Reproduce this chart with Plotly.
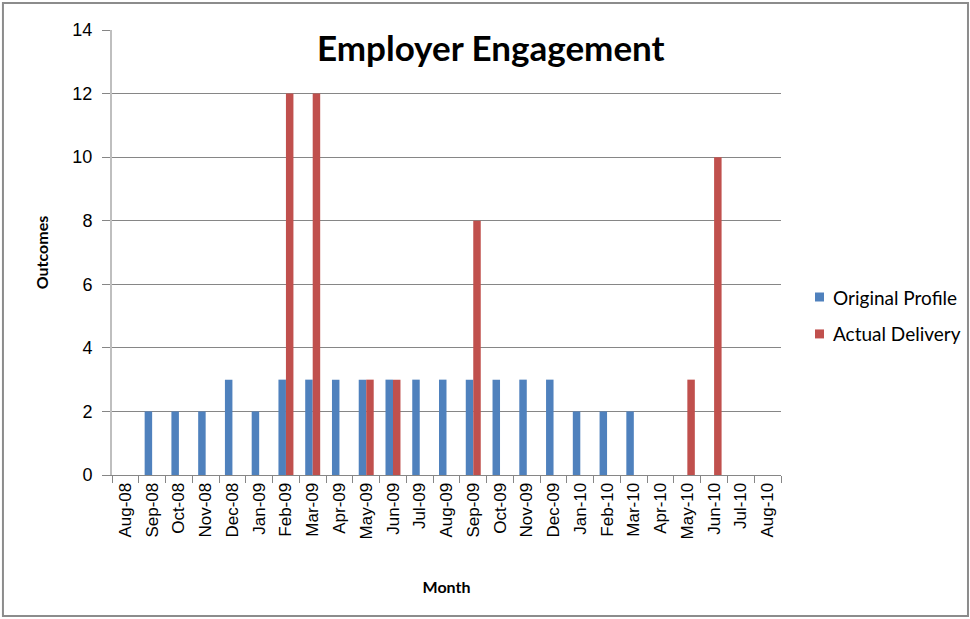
import plotly.graph_objects as go

months = ["Aug-08", "Sep-08", "Oct-08", "Nov-08", "Dec-08", "Jan-09", "Feb-09", "Mar-09",
          "Apr-09", "May-09", "Jun-09", "Jul-09", "Aug-09", "Sep-09", "Oct-09", "Nov-09",
          "Dec-09", "Jan-10", "Feb-10", "Mar-10", "Apr-10", "May-10", "Jun-10", "Jul-10", "Aug-10"]
original_profile = [0, 2, 2, 2, 3, 2, 3, 3, 3, 3, 3, 3, 3, 3, 3, 3, 3, 2, 2, 2, 0, 0, 0, 0, 0]
actual_delivery = [0, 0, 0, 0, 0, 0, 12, 12, 0, 3, 3, 0, 0, 8, 0, 0, 0, 0, 0, 0, 0, 3, 10, 0, 0]
series_names = ["Original Profile", "Actual Delivery"]
series_colors = ["#4F81BD", "#C0504D"]
y_ticks = [0, 2, 4, 6, 8, 10, 12, 14]

fig = go.Figure()
for name, vals, col in zip(series_names, [original_profile, actual_delivery], series_colors):
    fig.add_trace(go.Bar(name=name, x=months, y=vals,
                         marker=dict(color=col, line=dict(width=0))))

# manual legend (real text), placed to the right of the plot
annotations = [dict(text="<b>Employer Engagement</b>", x=0.5665, y=0.962,
                    xref="paper", yref="paper", showarrow=False,
                    xanchor="center", yanchor="middle",
                    font=dict(family="Lato", size=35, color="#000"))]
shapes = [dict(type="rect", xref="paper", yref="paper",
               x0=-0.163, x1=1.2795, y0=-0.317, y1=1.0607,
               line=dict(color="#8c8c8c", width=2), fillcolor="rgba(0,0,0,0)",
               layer="below")]
leg_y = [0.40, 0.317]
for name, col, yc in zip(series_names, series_colors, leg_y):
    shapes.append(dict(type="rect", xref="paper", yref="paper",
                       x0=1.0508, x1=1.0643, y0=yc - 0.0101, y1=yc + 0.0101,
                       line=dict(width=0), fillcolor=col))
    annotations.append(dict(text=name, x=1.0747, y=yc, xref="paper", yref="paper",
                            showarrow=False, xanchor="left", yanchor="middle",
                            font=dict(family="Lato", size=19, color="#000")))

fig.update_layout(
    width=970, height=619,
    margin=dict(l=112, r=189, t=30, b=144),
    paper_bgcolor="white", plot_bgcolor="white",
    barmode="group", bargap=0.44, bargroupgap=0,
    showlegend=False,
    annotations=annotations,
    shapes=shapes,
)

fig.update_yaxes(range=[0, 14], tickvals=y_ticks, showgrid=True, gridcolor="#868686", gridwidth=1,
                 ticks="outside", ticklen=8, tickcolor="#868686",
                 showline=True, linecolor="#bfbfbf", linewidth=2,
                 tickfont=dict(family="Liberation Sans", size=18, color="#000"),
                 ticklabelstandoff=6,
                 title=dict(text="<b>Outcomes</b>", font=dict(family="Lato", size=16, color="#000"), standoff=20),
                 zeroline=False, automargin=False)
fig.update_xaxes(type="category", tickangle=-90, ticks="outside", tickson="boundaries",
                 ticklen=7, tickcolor="#868686", showline=True, linecolor="#868686", linewidth=1,
                 tickfont=dict(family="Liberation Sans", size=17, color="#000"),
                 title=dict(text="<b>Month</b>", font=dict(family="Lato", size=16, color="#000"), standoff=43),
                 showgrid=False, automargin=False)

fig.write_html("out.html")
